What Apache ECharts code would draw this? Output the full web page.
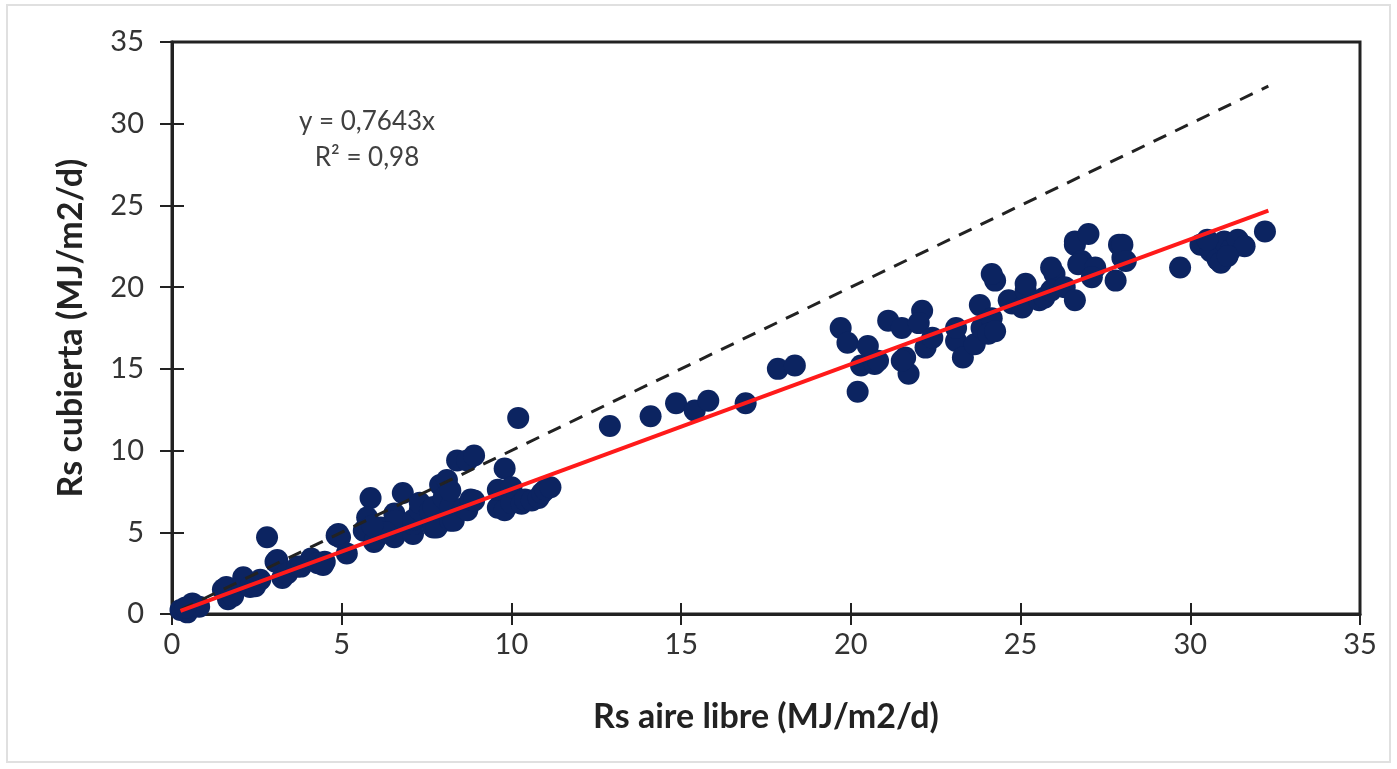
<!DOCTYPE html>
<html>
<head>
<meta charset="utf-8">
<script src="https://cdn.jsdelivr.net/npm/echarts@6/dist/echarts.min.js"></script>
<style>
html,body{margin:0;padding:0;background:#fff;}
#chart{width:1397px;height:769px;}
</style>
</head>
<body>
<div id="chart"></div>
<script>
// Rs aire libre (x) values, MJ/m2/d
const xVals = [
  0.25,0.45,0.6,0.8,0.4,
  1.5,1.65,1.8,1.6,2.1,2.3,2.45,2.6,
  2.8,3.05,3.1,3.25,3.4,3.7,3.8,4.1,4.3,4.5,4.45,
  4.85,4.95,5.15,4.9,
  5.85,6.8,7.9,8.1,5.75,5.65,5.95,6.15,6.35,6.55,6.55,6.6,7.1,7.1,7.1,7.3,7.3,7.6,7.7,7.7,7.8,8.0,8.2,8.2,8.2,8.3,8.6,8.7,8.8,8.9,6.0,6.3,5.9,
  8.4,8.7,8.9,9.8,10.2,
  9.6,9.6,9.8,10.0,10.0,10.3,10.4,10.6,10.8,10.9,11.0,11.15,
  12.9,14.1,14.85,15.4,15.8,16.9,17.85,18.35,
  19.7,19.9,20.5,20.2,20.3,20.7,20.8,21.1,21.5,22.1,22.0,21.7,21.6,21.5,22.2,22.4,23.1,23.1,23.3,23.65,23.85,23.8,24.15,24.05,24.75,24.25,24.15,24.25,
  24.65,25.05,25.15,25.15,25.55,25.7,26.0,25.9,25.9,26.3,26.6,26.6,26.6,27.0,26.8,26.7,27.2,27.1,27.8,27.9,28.0,28.0,28.1,
  29.7,30.3,30.6,30.8,31.0,31.2,30.9,31.4,31.6,30.5,31.1,32.2
];
// Rs cubierta (y) values, MJ/m2/d
const yVals = [
  0.25,0.1,0.65,0.45,0.4,
  1.5,0.9,1.1,1.65,2.25,1.65,1.7,2.1,
  4.7,3.2,3.3,2.2,2.5,2.9,2.9,3.4,3.1,3.2,3.0,
  4.8,4.7,3.7,4.9,
  7.1,7.4,7.9,8.2,5.9,5.1,4.4,5.3,5.3,4.7,6.15,5.7,4.9,5.5,5.75,6.35,6.8,6.3,5.3,6.55,5.3,7.1,5.7,6.55,7.55,5.7,6.5,6.35,7.0,6.95,4.6,5.0,5.4,
  9.4,9.4,9.7,8.9,12.0,
  6.5,7.6,6.35,6.8,7.75,6.75,7.0,6.95,7.1,7.4,7.6,7.75,
  11.5,12.1,12.9,12.45,13.05,12.9,15.0,15.2,
  17.5,16.6,16.4,13.6,15.2,15.3,15.5,17.95,17.5,18.55,17.8,14.7,15.7,15.5,16.3,16.9,16.7,17.5,15.7,16.5,17.5,18.9,18.1,17.15,19.0,20.4,20.8,17.3,
  19.2,18.75,19.8,20.2,19.2,19.35,20.8,19.8,21.2,20.0,19.2,22.6,22.8,23.25,21.6,21.4,21.2,20.6,20.4,22.6,21.8,22.6,21.6,
  21.2,22.6,22.2,21.7,22.8,22.3,21.5,22.9,22.5,22.9,21.9,23.4
];
const slope = 0.7643;
const fitRangeX = [0.25, 32.3];
const oneToOneX = [0.25, 32.3];
const xTicks = [0,5,10,15,20,25,30,35];
const yTicks = [0,5,10,15,20,25,30,35];
const eqText = 'y = 0,7643x';
const r2Text = 'R² = 0,98';
const xTitle = 'Rs aire libre (MJ/m2/d)';
const yTitle = 'Rs cubierta (MJ/m2/d)';

const points = xVals.map((x, i) => [x, yVals[i]]);
const fitLine = fitRangeX.map(x => [x, slope * x]);
const idLine = oneToOneX.map(x => [x, x]);

const FONT = 'Lato';
const axisCommonX = {
  type: 'value', min: 0, max: 35, interval: 5,
  splitLine: { show: false }
};
const chart = echarts.init(document.getElementById('chart'));
chart.setOption({
  backgroundColor: '#fff',
  animation: false,
  grid: {
    left: 172, right: 37, top: 42, bottom: 155,
    show: true, borderColor: '#222', borderWidth: 3, backgroundColor: 'transparent'
  },
  graphic: [
    { type: 'rect', shape: { x: 7, y: 5, width: 1383, height: 757 },
      style: { fill: 'none', stroke: '#e0e0e0', lineWidth: 2 }, silent: true, z: -1 },
    { type: 'text', x: 367, y: 122, style: { text: eqText, fill: '#404040', font: '26px ' + FONT, textAlign: 'center', textVerticalAlign: 'middle' } },
    { type: 'text', x: 367, y: 158, style: { text: r2Text, fill: '#404040', font: '26px ' + FONT, textAlign: 'center', textVerticalAlign: 'middle' } }
  ],
  xAxis: [
    Object.assign({}, axisCommonX, {
      name: xTitle, nameLocation: 'middle', nameGap: 86,
      nameTextStyle: { fontFamily: FONT, fontSize: 34, fontWeight: 'bold', color: '#222' },
      axisLine: { show: true, lineStyle: { color: '#222', width: 3 } },
      axisTick: { show: true, inside: false, length: 11, lineStyle: { color: '#222', width: 2 } },
      axisLabel: { margin: 16, fontFamily: FONT, fontSize: 29, color: '#333',
        formatter: v => xTicks.includes(v) ? String(v) : '' }
    }),
    Object.assign({}, axisCommonX, {
      position: 'bottom',
      axisLine: { show: false },
      axisTick: { show: true, inside: true, length: 11, lineStyle: { color: '#222', width: 2 } },
      axisLabel: { show: false }
    })
  ],
  yAxis: [
    {
      type: 'value', min: 0, max: 35, interval: 5,
      splitLine: { show: false },
      name: yTitle, nameLocation: 'middle', nameGap: 84, nameRotate: 90,
      nameTextStyle: { fontFamily: FONT, fontSize: 34, fontWeight: 'bold', color: '#222' },
      axisLine: { show: true, lineStyle: { color: '#222', width: 3 } },
      axisTick: { show: true, inside: false, length: 12, lineStyle: { color: '#222', width: 2 } },
      axisLabel: { margin: 28, fontFamily: FONT, fontSize: 29, color: '#333',
        formatter: v => yTicks.includes(v) ? String(v) : '' }
    },
    {
      type: 'value', min: 0, max: 35, interval: 5, position: 'left',
      splitLine: { show: false },
      axisLine: { show: false },
      axisTick: { show: true, inside: true, length: 12, lineStyle: { color: '#222', width: 2 } },
      axisLabel: { show: false }
    }
  ],
  series: [
    {
      type: 'scatter', data: points, symbol: 'circle', symbolSize: 22,
      itemStyle: { color: '#0c2461', opacity: 1 }, z: 2
    },
    {
      type: 'line', data: idLine, symbol: 'none',
      lineStyle: { color: '#222', width: 3, type: [14, 10] }, z: 3
    },
    {
      type: 'line', data: fitLine, symbol: 'none',
      lineStyle: { color: '#ff1a1a', width: 4 }, z: 4
    }
  ]
});
</script>
</body>
</html>
